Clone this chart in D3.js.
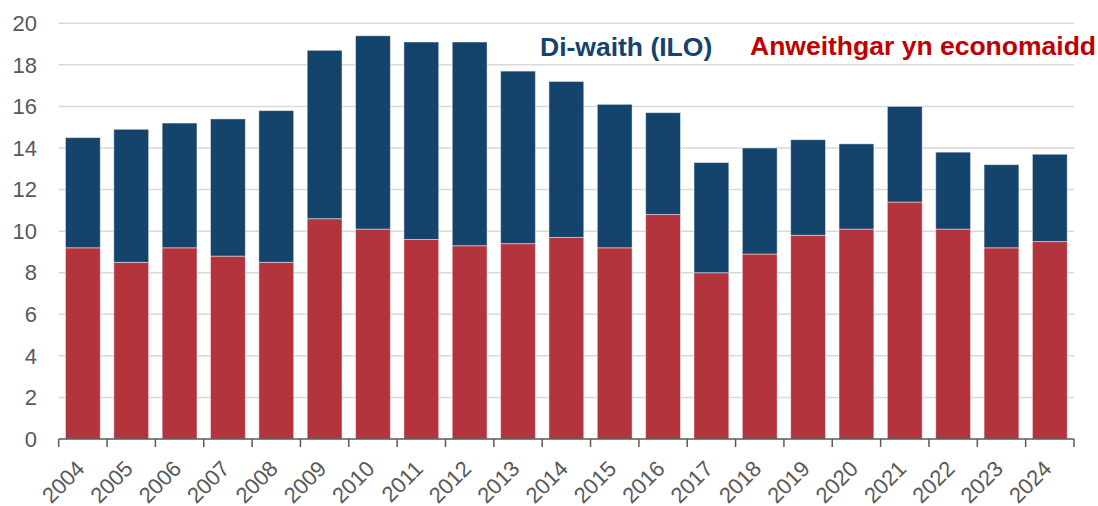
<!DOCTYPE html>
<html>
<head>
<meta charset="utf-8">
<script src="https://cdn.jsdelivr.net/npm/d3@7"></script>
<style>
  body { margin: 0; background: #fff; }
  svg { display: block; font-family: "Liberation Sans", Arial, sans-serif; }
</style>
</head>
<body>
<div id="chart"></div>
<script>
// data
const years = ['2004', '2005', '2006', '2007', '2008', '2009', '2010', '2011', '2012', '2013', '2014',
  '2015', '2016', '2017', '2018', '2019', '2020', '2021', '2022', '2023', '2024']
// economically inactive (bottom, red)
const inactive = [9.2, 8.5, 9.2, 8.8, 8.5, 10.6, 10.1, 9.6, 9.3, 9.4, 9.7,
  9.2, 10.8, 8.0, 8.9, 9.8, 10.1, 11.4, 10.1, 9.2, 9.5]
// total height of the stack (top of blue)
const totals = [14.5, 14.9, 15.2, 15.4, 15.8, 18.7, 19.4, 19.1, 19.1, 17.7, 17.2,
  16.1, 15.7, 13.3, 14.0, 14.4, 14.2, 16.0, 13.8, 13.2, 13.7]
const yTicks = [0, 2, 4, 6, 8, 10, 12, 14, 16, 18, 20]
const seriesNames = ['Di-waith (ILO)', 'Anweithgar yn economaidd']

const width = 1098
const height = 506
const plotLeft = 58.7
const plotRight = 1074
const plotTop = 23.3
const plotBottom = 439

const blue = '#14436c'
const red = '#b3343c'

const svg = d3.select('#chart')
  .append('svg')
  .attr('width', width)
  .attr('height', height)

const x = d3.scaleBand()
  .domain(years)
  .range([plotLeft, plotRight])
  .paddingInner(0.28)
  .paddingOuter(0.14)

const y = d3.scaleLinear()
  .domain([0, 20])
  .range([plotBottom, plotTop])

// gridlines
svg.append('g')
  .selectAll('line')
  .data(yTicks.filter(d => d > 0))
  .enter()
  .append('line')
  .attr('x1', plotLeft)
  .attr('x2', plotRight)
  .attr('y1', d => y(d))
  .attr('y2', d => y(d))
  .attr('stroke', '#d9d9d9')
  .attr('stroke-width', 1.5)

// y labels
svg.append('g')
  .selectAll('text')
  .data(yTicks)
  .enter()
  .append('text')
  .text(d => d)
  .attr('x', 37)
  .attr('y', d => y(d))
  .attr('dy', '0.35em')
  .attr('text-anchor', 'end')
  .attr('fill', '#595959')
  .style('font-size', '22px')

// stacked rows built from the arrays
const rows = years.map((yr, i) => ({ year: yr, red: inactive[i], total: totals[i] }))

const bars = svg.append('g')

bars.selectAll('rect.red')
  .data(rows)
  .enter()
  .append('rect')
  .attr('class', 'red')
  .attr('x', d => x(d.year))
  .attr('width', x.bandwidth())
  .attr('y', d => y(d.red))
  .attr('height', d => y(0) - y(d.red))
  .attr('fill', red)
  .attr('stroke', '#fff')
  .attr('stroke-opacity', 0.45)
  .attr('stroke-width', 1)

bars.selectAll('rect.blue')
  .data(rows)
  .enter()
  .append('rect')
  .attr('class', 'blue')
  .attr('x', d => x(d.year))
  .attr('width', x.bandwidth())
  .attr('y', d => y(d.total))
  .attr('height', d => y(d.red) - y(d.total))
  .attr('fill', blue)
  .attr('stroke', '#fff')
  .attr('stroke-opacity', 0.45)
  .attr('stroke-width', 1)

// x axis: tick marks at band edges
const step = x.step()
const edges = d3.range(years.length + 1).map(i => plotLeft + i * step)

const xAxis = svg.append('g')
xAxis.append('line')
  .attr('x1', plotLeft)
  .attr('x2', plotRight)
  .attr('y1', plotBottom)
  .attr('y2', plotBottom)
  .attr('stroke', '#595959')
  .attr('stroke-width', 1.5)

xAxis.selectAll('line.tick')
  .data(edges)
  .enter()
  .append('line')
  .attr('class', 'tick')
  .attr('x1', d => d)
  .attr('x2', d => d)
  .attr('y1', plotBottom)
  .attr('y2', plotBottom + 8)
  .attr('stroke', '#595959')
  .attr('stroke-width', 1.5)

xAxis.selectAll('text')
  .data(years)
  .enter()
  .append('text')
  .text(d => d)
  .attr('text-anchor', 'end')
  .attr('transform', d => `translate(${x(d) + x.bandwidth() / 2 + 3}, ${plotBottom + 31}) rotate(-45)`)
  .attr('fill', '#595959')
  .style('font-size', '22px')

// legend labels
svg.append('text')
  .text(seriesNames[0])
  .attr('x', 540)
  .attr('y', 56)
  .attr('fill', blue)
  .style('font-size', '26.5px')
  .style('font-weight', 'bold')

svg.append('text')
  .text(seriesNames[1])
  .attr('x', 750)
  .attr('y', 55)
  .attr('fill', '#c00000')
  .style('font-size', '26.5px')
  .style('font-weight', 'bold')
</script>
</body>
</html>
